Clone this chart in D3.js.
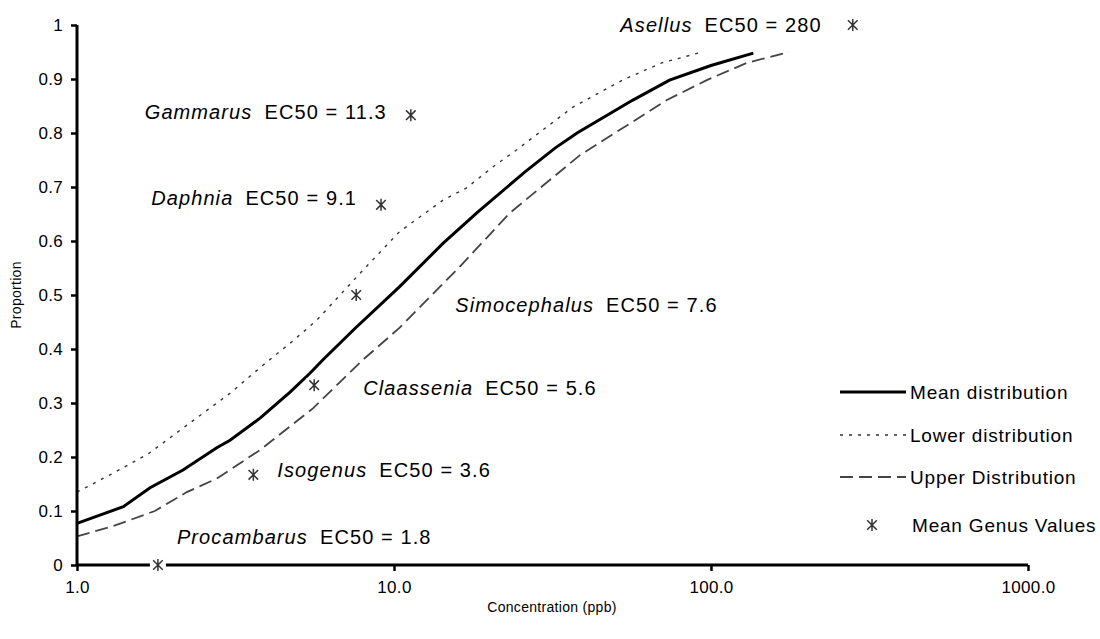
<!DOCTYPE html>
<html>
<head>
<meta charset="utf-8">
<script src="https://cdn.jsdelivr.net/npm/d3@7"></script>
<style>
  html, body { margin: 0; padding: 0; background: #fff; }
  svg { display: block; font-family: "Liberation Sans", Arial, sans-serif; }
</style>
</head>
<body>
<svg id="chart" width="1100" height="639"></svg>
<script>
// ---- Data ----
const meanConc = [1.0, 1.4, 1.7, 2.16, 2.76, 3.04, 3.78, 4.7, 5.43, 5.97, 7.5, 10.4, 14.3, 18.4, 25.9, 32.2, 37.8, 56.7, 74, 100, 136];
const meanProp = [0.077, 0.108, 0.143, 0.176, 0.217, 0.231, 0.272, 0.32, 0.355, 0.38, 0.437, 0.515, 0.596, 0.654, 0.728, 0.772, 0.80, 0.861, 0.898, 0.925, 0.948];

const lowerConc = [1.0, 1.3, 1.68, 2.27, 3.04, 3.86, 4.8, 5.72, 7.98, 10.4, 14.3, 16.9, 20.5, 24.4, 30.3, 36.7, 52.6, 70, 94];
const lowerProp = [0.135, 0.17, 0.206, 0.263, 0.318, 0.37, 0.415, 0.454, 0.546, 0.617, 0.676, 0.698, 0.737, 0.769, 0.811, 0.848, 0.898, 0.93, 0.95];

const upperConc = [1.0, 1.3, 1.76, 2.22, 2.76, 3.78, 5.55, 7.98, 10.4, 16.1, 23.2, 38.6, 72.6, 97, 130, 176];
const upperProp = [0.053, 0.072, 0.10, 0.135, 0.16, 0.213, 0.29, 0.38, 0.439, 0.552, 0.652, 0.759, 0.861, 0.898, 0.93, 0.95];

const genera = ["Procambarus", "Isogenus", "Claassenia", "Simocephalus", "Daphnia", "Gammarus", "Asellus"];
const genusEC50 = [1.8, 3.6, 5.6, 7.6, 9.1, 11.3, 280];
const genusEC50Text = ["1.8", "3.6", "5.6", "7.6", "9.1", "11.3", "280"];
const genusProp = [0, 0.167, 0.333, 0.5, 0.667, 0.833, 1.0];

const xTicks = [1, 10, 100, 1000];
const xTickLabels = ["1.0", "10.0", "100.0", "1000.0"];
const yTicks = [0, 0.1, 0.2, 0.3, 0.4, 0.5, 0.6, 0.7, 0.8, 0.9, 1];
const yTickLabels = ["0", "0.1", "0.2", "0.3", "0.4", "0.5", "0.6", "0.7", "0.8", "0.9", "1"];

const legendLabels = ["Mean distribution", "Lower distribution", "Upper Distribution", "Mean Genus Values"];

// ---- Layout (pixel offsets of labels from their markers) ----
const labelLayout = [
  {dx: 19, dy: -28, anchor: "start"},
  {dx: 24, dy: -5, anchor: "start"},
  {dx: 49, dy: 3, anchor: "start"},
  {dx: 99, dy: 10, anchor: "start"},
  {dx: -24, dy: -7, anchor: "end"},
  {dx: -24, dy: -3, anchor: "end"},
  {dx: -31, dy: 0, anchor: "end"}
];

const svg = d3.select("#chart");
const x = d3.scaleLog().domain([1, 1000]).range([77, 1028]);
const y = d3.scaleLinear().domain([0, 1]).range([565, 25]);

// ---- Curves ----
const line = d3.line().x(d => x(d[0])).y(d => y(d[1]));
const lowerData = d3.zip(lowerConc, lowerProp);
const upperData = d3.zip(upperConc, upperProp);
const meanData = d3.zip(meanConc, meanProp);

svg.append("path").datum(lowerData).attr("d", line)
  .attr("fill", "none").attr("stroke", "#333").attr("stroke-width", 1.4)
  .attr("stroke-dasharray", "3,6");
svg.append("path").datum(upperData).attr("d", line)
  .attr("fill", "none").attr("stroke", "#444").attr("stroke-width", 1.8)
  .attr("stroke-dasharray", "13,6");
svg.append("path").datum(meanData).attr("d", line)
  .attr("fill", "none").attr("stroke", "#000").attr("stroke-width", 3);

// ---- Axes ----
const yAxis = d3.axisLeft(y).tickValues(yTicks).tickSize(6).tickPadding(8)
  .tickFormat((d, i) => yTickLabels[i]);
const gy = svg.append("g").attr("transform", "translate(77,0)").call(yAxis);
gy.select(".domain").attr("d", "M0,25V565").attr("stroke", "#000").attr("stroke-width", 3);
gy.selectAll(".tick line").attr("stroke", "#000").attr("stroke-width", 2.5);
gy.selectAll(".tick text").attr("font-size", 17).attr("fill", "#000").attr("letter-spacing", 0.3)
  .attr("font-family", "'Liberation Sans', Arial, sans-serif").attr("x", -14);

const xAxis = d3.axisBottom(x).tickValues(xTicks).tickSize(6).tickPadding(10)
  .tickFormat((d, i) => xTickLabels[i]);
const gx = svg.append("g").attr("transform", "translate(0,565)").call(xAxis);
gx.select(".domain").attr("d", "M77,0H1028").attr("stroke", "#000").attr("stroke-width", 3);
gx.selectAll(".tick line").attr("stroke", "#000").attr("stroke-width", 2.5);
gx.selectAll(".tick text").attr("font-size", 17).attr("fill", "#000").attr("letter-spacing", 0.3)
  .attr("font-family", "'Liberation Sans', Arial, sans-serif");

// axis titles
svg.append("text").attr("x", 552).attr("y", 612).attr("text-anchor", "middle")
  .attr("font-size", 14).attr("letter-spacing", 0.3).text("Concentration (ppb)");
svg.append("text").attr("transform", "translate(21,295) rotate(-90)")
  .attr("text-anchor", "middle").attr("font-size", 14).attr("letter-spacing", 0.3).text("Proportion");

// ---- Genus markers ----
function star(g, cx, cy, r) {
  g.append("rect").attr("x", cx - r - 2).attr("y", cy - r - 1).attr("width", 2 * r + 4).attr("height", 2 * r + 2)
    .attr("fill", "#fff");
  const p = `M${cx - r * 0.8},${cy - r * 0.8}L${cx + r * 0.8},${cy + r * 0.8}` +
            `M${cx - r * 0.8},${cy + r * 0.8}L${cx + r * 0.8},${cy - r * 0.8}` +
            `M${cx},${cy - r}L${cx},${cy + r}`;
  g.append("path").attr("d", p).attr("stroke", "#333").attr("stroke-width", 1.5).attr("fill", "none");
}
const mg = svg.append("g");
genera.forEach((gname, i) => {
  const cx = x(genusEC50[i]), cy = y(genusProp[i]);
  star(mg, cx, cy, 6);
  const L = labelLayout[i];
  const t = svg.append("text").attr("x", cx + L.dx).attr("y", cy + L.dy).attr("dy", "0.35em")
    .attr("text-anchor", L.anchor).attr("font-size", 20).attr("letter-spacing", 1.1).attr("fill", "#000");
  t.append("tspan").attr("font-style", "italic").text(gname);
  t.append("tspan").attr("dx", 12).text("EC50 = " + genusEC50Text[i]);
});

// ---- Legend ----
const lg = svg.append("g");
const legY = [392, 435, 477, 525];
const legStyles = [
  {stroke: "#000", w: 3, dash: null},
  {stroke: "#333", w: 1.4, dash: "3,6"},
  {stroke: "#444", w: 1.8, dash: "13,6"}
];
legendLabels.forEach((lab, i) => {
  if (i < 3) {
    const s = legStyles[i];
    const l = lg.append("line").attr("x1", 840).attr("x2", 906).attr("y1", legY[i]).attr("y2", legY[i])
      .attr("stroke", s.stroke).attr("stroke-width", s.w);
    if (s.dash) l.attr("stroke-dasharray", s.dash);
    lg.append("text").attr("x", 910).attr("y", legY[i]).attr("dy", "0.35em")
      .attr("font-size", 19).attr("letter-spacing", 0.8).attr("fill", "#000").text(lab);
  } else {
    star(lg, 872, legY[i], 6);
    lg.append("text").attr("x", 912).attr("y", legY[i]).attr("dy", "0.35em")
      .attr("font-size", 19).attr("letter-spacing", 0.8).attr("fill", "#000").text(lab);
  }
});
</script>
</body>
</html>
